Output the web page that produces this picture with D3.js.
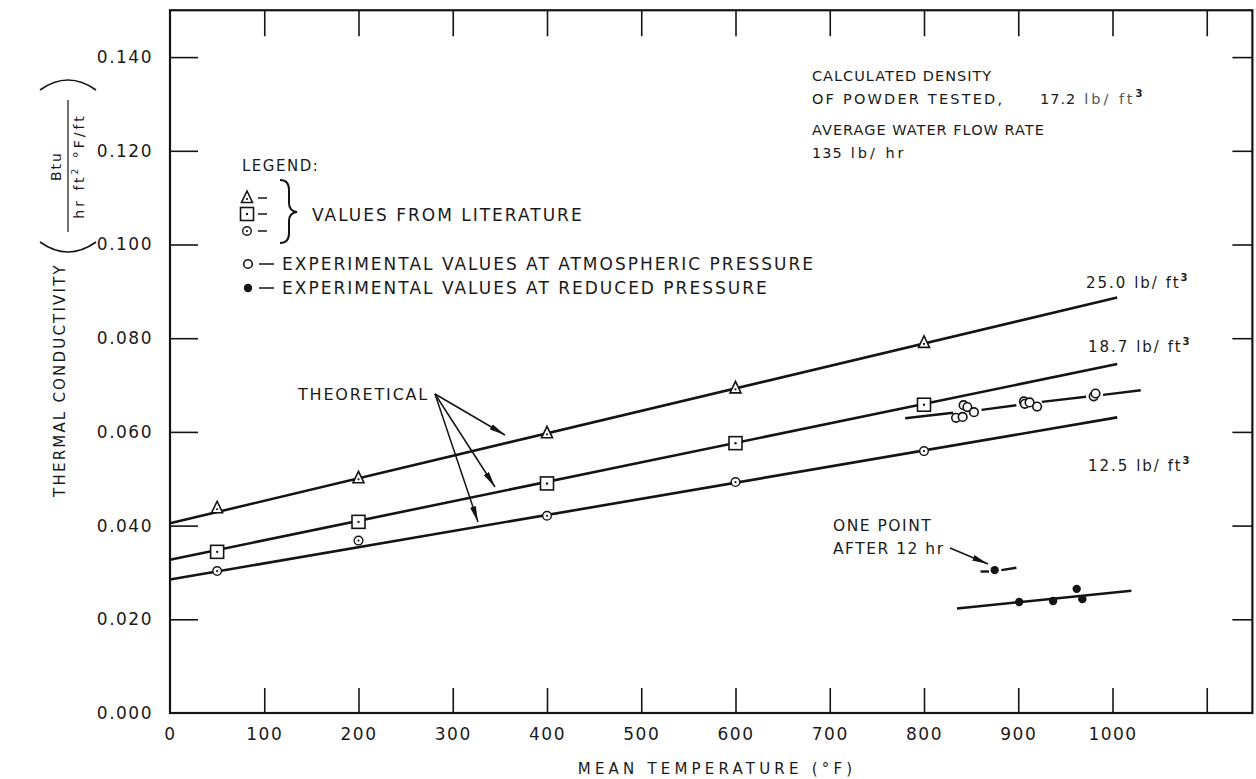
<!DOCTYPE html>
<html><head><meta charset="utf-8">
<script src="https://cdn.jsdelivr.net/npm/d3@7/dist/d3.min.js"></script>
<style>
html,body{margin:0;padding:0;background:#fff;}
svg text{font-family:"DejaVu Sans",sans-serif;fill:#1a1a1a;}
</style></head><body>
<svg id="chart" width="1256" height="779"></svg>
<script>
// ---------------- data ----------------
const xTicks = [0,100,200,300,400,500,600,700,800,900,1000,1100];
const xTickLabels = ["0","100","200","300","400","500","600","700","800","900","1000",""];
const yTicks = [0,0.02,0.04,0.06,0.08,0.10,0.12,0.14];
const yTickLabels = ["0.000","0.020","0.040","0.060","0.080","0.100","0.120","0.140"];

// values from literature
const litTemps = [50,200,400,600,800];
const litTriangle = [0.0437,0.0501,0.0597,0.0693,0.0790];
const litSquare   = [0.0344,0.0408,0.0490,0.0576,0.0658];
const litCircle   = [0.0303,0.0368,0.0421,0.0493,0.0559];

// theoretical lines (end points)
const theoLabels = ["25.0","18.7","12.5"];
const theo250 = [[0,0.0405],[1005,0.0887]];
const theo187 = [[0,0.0327],[1005,0.0745]];
const theo125 = [[0,0.0285],[1005,0.0631]];

// experimental, atmospheric pressure
const atmTemps = [834,841,842,846,853,906,907,912,920,980,982];
const atmK     = [0.0630,0.0632,0.0657,0.0653,0.0642,0.0665,0.0660,0.0663,0.0654,0.0676,0.0682];
const atmFit = [[[780,0.0629],[831,0.0641]],[[861,0.0647],[898,0.0657]],[[925,0.0664],[972,0.0675]],[[990,0.0679],[1030,0.0689]]];

// experimental, reduced pressure
const redTemps = [875,901,937,962,968];
const redK     = [0.0305,0.0237,0.0239,0.0265,0.0243];
const redFit = [[[835,0.0223],[1020,0.0261]]];
const oneFit = [[[860,0.0302],[869,0.0302]],[[882,0.0305],[898,0.0310]]];

// ---------------- chart ----------------
const svg = d3.select("#chart");
const x = d3.scaleLinear().domain([0,1150]).range([170,170+1150*0.9425]);
const y = d3.scaleLinear().domain([0,0.15]).range([713,713-0.15*4685]);
const ink = "#141414";

svg.append("defs").append("marker")
  .attr("id","arr").attr("viewBox","0 0 16 6").attr("refX",16).attr("refY",3)
  .attr("markerUnits","userSpaceOnUse").attr("markerWidth",16).attr("markerHeight",6)
  .attr("orient","auto")
  .append("path").attr("d","M0,0 L16,3 L0,6 Z").attr("fill",ink);

// axes
const gB = svg.append("g").attr("transform",`translate(0,${y(0)})`)
  .call(d3.axisBottom(x).tickValues(xTicks).tickSize(-25).tickPadding(15)
    .tickFormat((d,i)=>xTickLabels[i]));
const gT = svg.append("g").attr("transform",`translate(0,${y(0.15)})`)
  .call(d3.axisTop(x).tickValues(xTicks.slice(1)).tickSize(-26).tickFormat(""));
const gL = svg.append("g").attr("transform",`translate(${x(0)},0)`)
  .call(d3.axisLeft(y).tickValues(yTicks).tickSize(-28).tickPadding(17)
    .tickFormat((d,i)=>yTickLabels[i]));
const gR = svg.append("g").attr("transform",`translate(${x(1150)-1.5},0)`)
  .call(d3.axisRight(y).tickValues(yTicks.slice(1)).tickSize(-20).tickFormat(""));
[gB,gT,gL,gR].forEach(g=>{
  g.select(".domain").remove();
  g.selectAll(".tick line").attr("stroke",ink).attr("stroke-width",1.6);
  g.selectAll(".tick text").attr("fill","#1a1a1a").style("font-family","DejaVu Sans")
   .style("font-size","17px").style("letter-spacing","1.5px");
});
gB.selectAll(".tick").filter(d=>d===0).select("line").remove();
gL.selectAll(".tick").filter(d=>d===0).select("line").remove();

// frame
svg.append("rect").attr("x",x(0)).attr("y",y(0.15))
  .attr("width",x(1150)-x(0)-1.5).attr("height",y(0)-y(0.15))
  .attr("fill","none").attr("stroke",ink).attr("stroke-width",2.2);

// axis titles
svg.append("text").attr("x",717).attr("y",774).attr("text-anchor","middle")
  .style("font-size","15px").style("letter-spacing","4.2px").text("MEAN TEMPERATURE (°F)");
const yt = svg.append("g").attr("transform","translate(60,380) rotate(-90)");
yt.append("text").attr("x",0).attr("y",5).attr("text-anchor","middle")
  .style("font-size","15px").style("letter-spacing","2.2px").text("THERMAL CONDUCTIVITY");
const fr = svg.append("g").attr("transform","translate(68,166) rotate(-90)");
fr.append("text").attr("x",0).attr("y",-7).attr("text-anchor","middle")
  .style("font-size","14px").style("letter-spacing","2px").text("Btu");
fr.append("line").attr("x1",-66).attr("x2",66).attr("y1",0).attr("y2",0)
  .attr("stroke",ink).attr("stroke-width",1.2);
const den = fr.append("text").attr("x",0).attr("y",16).attr("text-anchor","middle")
  .style("font-size","14px").style("letter-spacing","3px");
den.append("tspan").text("hr ft");
den.append("tspan").attr("dy",-6).style("font-size","9px").text("2");
den.append("tspan").attr("dy",6).text(" °F/ft");
fr.append("path").attr("d","M-76,-28 Q-96,0 -76,28").attr("fill","none").attr("stroke",ink).attr("stroke-width",1.6);
fr.append("path").attr("d","M76,-28 Q96,0 76,28").attr("fill","none").attr("stroke",ink).attr("stroke-width",1.6);

// lines
const line = d3.line().x(d=>x(d[0])).y(d=>y(d[1]));
[theo250,theo187,theo125].forEach(s=>{
  svg.append("path").attr("d",line(s)).attr("fill","none").attr("stroke",ink).attr("stroke-width",2.6);
});
atmFit.concat(redFit,oneFit).forEach(s=>{
  svg.append("path").attr("d",line(s)).attr("fill","none").attr("stroke",ink).attr("stroke-width",2.4);
});

// markers
function triangle(g,cx,cy){
  g.append("path").attr("d",`M${cx},${cy-7} L${cx+5.5},${cy+4.5} L${cx-5.5},${cy+4.5} Z`)
   .attr("fill","#fff").attr("stroke",ink).attr("stroke-width",1.6);
  g.append("circle").attr("cx",cx).attr("cy",cy+1).attr("r",1.1).attr("fill",ink);
}
function square(g,cx,cy){
  g.append("rect").attr("x",cx-6.5).attr("y",cy-6.5).attr("width",13).attr("height",13)
   .attr("fill","#fff").attr("stroke",ink).attr("stroke-width",1.6);
  g.append("circle").attr("cx",cx).attr("cy",cy).attr("r",1.2).attr("fill",ink);
}
function circDot(g,cx,cy){
  g.append("circle").attr("cx",cx).attr("cy",cy).attr("r",4.3)
   .attr("fill","#fff").attr("stroke",ink).attr("stroke-width",1.4);
  g.append("circle").attr("cx",cx).attr("cy",cy).attr("r",1.1).attr("fill",ink);
}
function openC(g,cx,cy){
  g.append("circle").attr("cx",cx).attr("cy",cy).attr("r",4.3)
   .attr("fill","#fff").attr("stroke",ink).attr("stroke-width",1.6);
}
function fillC(g,cx,cy){
  g.append("circle").attr("cx",cx).attr("cy",cy).attr("r",4.2).attr("fill",ink);
}
const gm = svg.append("g");
litTemps.forEach((t,i)=>{
  triangle(gm,x(t),y(litTriangle[i]));
  square(gm,x(t),y(litSquare[i]));
  circDot(gm,x(t),y(litCircle[i]));
});
atmTemps.forEach((t,i)=>openC(gm,x(t),y(atmK[i])));
redTemps.forEach((t,i)=>fillC(gm,x(t),y(redK[i])));

// curve labels
function densLabel(txt,px,py){
  const t = svg.append("text").attr("x",px).attr("y",py)
    .style("font-size","15px").style("letter-spacing","2px");
  t.append("tspan").text(txt+" lb/ ft");
  t.append("tspan").attr("dy",-7).style("font-size","10px").style("font-weight","bold").text("3");
}
densLabel(theoLabels[0],1086,288);
densLabel(theoLabels[1],1088,352);
densLabel(theoLabels[2],1088,471);

// info text top right
const st = {"font-size":"14.5px","letter-spacing":"1px"};
function infoText(yy){
  const t = svg.append("text").attr("x",812).attr("y",yy);
  Object.entries(st).forEach(([k,v])=>t.style(k,v));
  return t;
}
infoText(81).text("CALCULATED DENSITY");
const l2 = infoText(104);
l2.append("tspan").style("letter-spacing","2.2px").text("OF POWDER TESTED,");
l2.append("tspan").attr("x",1040).text("17.2");
l2.append("tspan").attr("dx",8).style("letter-spacing","3px").style("fill","#555").text("lb/ ft");
l2.append("tspan").attr("dy",-7).style("font-size","10px").style("font-weight","bold").text("3");
infoText(135).text("AVERAGE WATER FLOW RATE");
const l4 = infoText(158);
l4.append("tspan").text("135");
l4.append("tspan").attr("dx",8).style("letter-spacing","3px").text("lb/ hr");

// legend
svg.append("text").attr("x",242).attr("y",171).style("font-size","15px").style("letter-spacing","1.5px").text("LEGEND:");
const lg = svg.append("g");
triangle(lg,247,198); square(lg,247,214); circDot(lg,247,231);
[198,214,231].forEach(yy=>lg.append("line").attr("x1",258).attr("x2",267).attr("y1",yy).attr("y2",yy).attr("stroke",ink).attr("stroke-width",1.5));
lg.append("path").attr("d","M280,180 Q289,180 289,190 L289,203 Q289,211 297,212 Q289,213 289,221 L289,233 Q289,243 280,243")
  .attr("fill","none").attr("stroke",ink).attr("stroke-width",2);
svg.append("text").attr("x",312).attr("y",221).style("font-size","17px").style("letter-spacing","2px").text("VALUES FROM LITERATURE");
openC(lg,248,264); fillC(lg,248,288);
[264,288].forEach(yy=>lg.append("line").attr("x1",259).attr("x2",274).attr("y1",yy).attr("y2",yy).attr("stroke",ink).attr("stroke-width",1.5));
svg.append("text").attr("x",282).attr("y",270).style("font-size","17px").style("letter-spacing","2px").text("EXPERIMENTAL VALUES AT ATMOSPHERIC PRESSURE");
svg.append("text").attr("x",282).attr("y",294).style("font-size","17px").style("letter-spacing","2px").text("EXPERIMENTAL VALUES AT REDUCED PRESSURE");

// THEORETICAL annotation
svg.append("text").attr("x",298).attr("y",400).style("font-size","16px").style("letter-spacing","1.8px").text("THEORETICAL");
[[505,435],[495,487],[478,522]].forEach(p=>{
  svg.append("line").attr("x1",435).attr("y1",394).attr("x2",p[0]).attr("y2",p[1])
    .attr("stroke",ink).attr("stroke-width",1.5).attr("marker-end","url(#arr)");
});

// ONE POINT annotation
svg.append("text").attr("x",833).attr("y",531).style("font-size","15.5px").style("letter-spacing","1.5px").text("ONE POINT");
svg.append("text").attr("x",833).attr("y",554).style("font-size","15.5px").style("letter-spacing","1.5px").text("AFTER 12 hr");
svg.append("line").attr("x1",950).attr("y1",548).attr("x2",988).attr("y2",564)
  .attr("stroke",ink).attr("stroke-width",1.5).attr("marker-end","url(#arr)");
</script>
</body></html>
